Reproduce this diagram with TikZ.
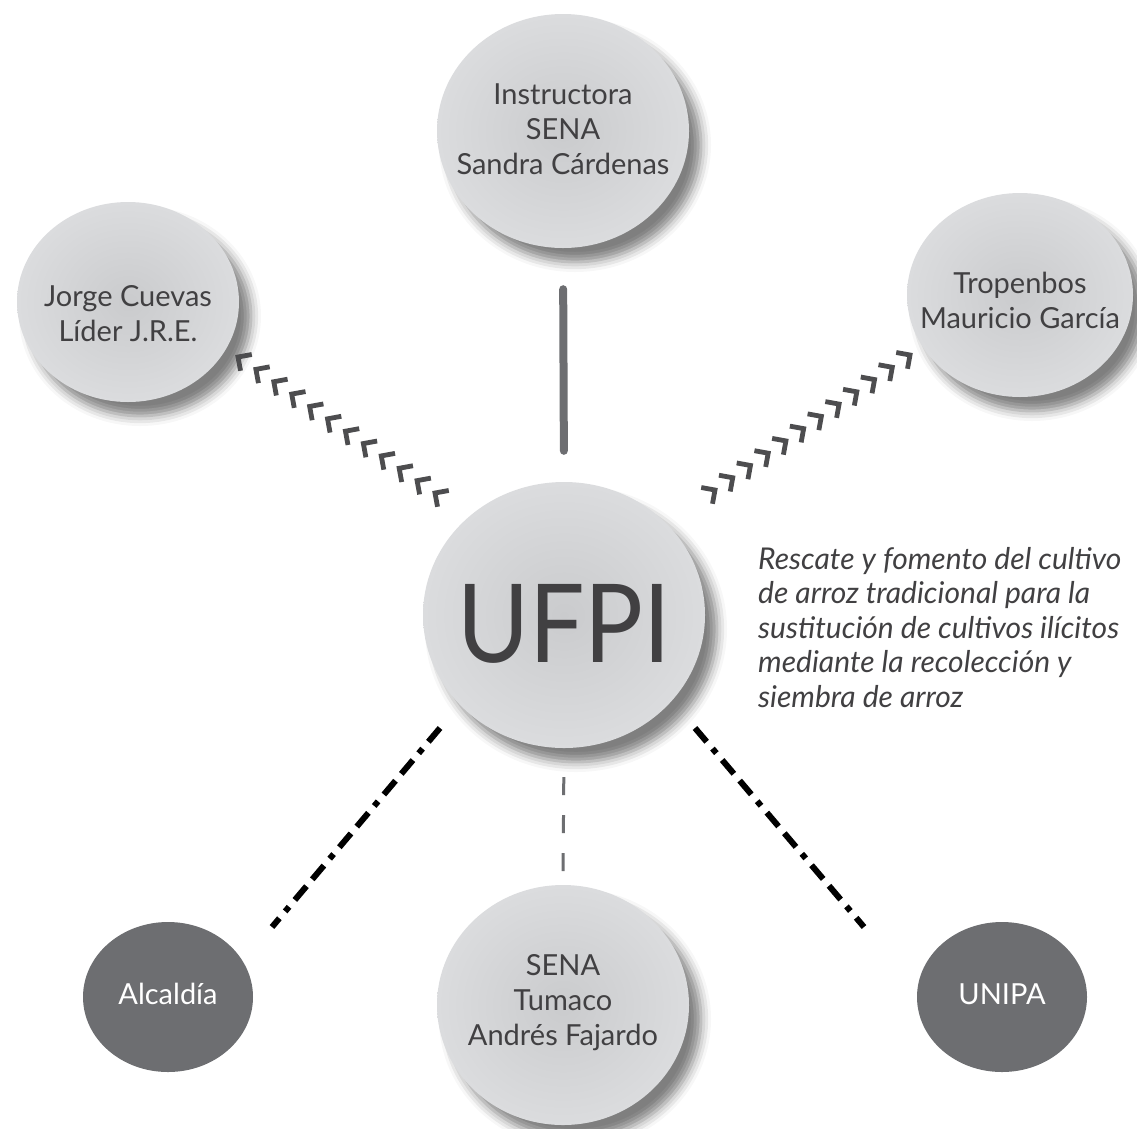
\documentclass[tikz,border=0pt]{standalone}
\usepackage{fontspec}
\setmainfont{Lato}
\newfontfamily\narrowlato[FakeStretch=0.9]{Lato}
\usetikzlibrary{shapes.geometric,calc,shadows.blur}
\definecolor{ufin}{HTML}{CACBCD}
\definecolor{ufout}{HTML}{DBDCDE}
\definecolor{darkc}{HTML}{6D6E71}
\definecolor{txtc}{HTML}{414042}
\definecolor{chevc}{HTML}{4D4D4F}
\definecolor{linkc}{HTML}{6D6E71}
\begin{document}
\begin{tikzpicture}[x=1pt,y=-1pt,
  lightnode/.style={ellipse, inner sep=0pt, shading=radial, inner color=ufin, outer color=ufout,
    blur shadow={shadow xshift=12pt, shadow yshift=-14pt, shadow blur radius=10pt, shadow opacity=50}},
  darknode/.style={ellipse, inner sep=0pt, fill=darkc},
  lbl/.style={align=center, text=txtc, font=\fontsize{29}{35}\selectfont, inner sep=0pt},
  wlbl/.style={lbl, text=white},
  chev/.style={draw=chevc, line width=4.8pt, miter limit=10},
  solidlink/.style={draw=linkc, line width=8pt, line cap=round},
  dashlink/.style={draw=linkc, line width=3pt, dash pattern=on 18pt off 20pt},
  ddlink/.style={draw=black, line width=6pt, dash pattern=on 18pt off 9pt on 6pt off 9pt on 18pt off 9pt}
]
\useasboundingbox (0,0) rectangle (1137,1128);

% nodes
\node[lightnode, minimum width=252pt, minimum height=234pt] (instr) at (563,131) {};
\node[lightnode, minimum width=222pt, minimum height=200pt] (jorge) at (128,302) {};
\node[lightnode, minimum width=226pt, minimum height=204pt] (tropen) at (1020,295) {};
\node[lightnode, minimum width=282pt, minimum height=266pt] (ufpi) at (564,615) {};
\node[lightnode, minimum width=252pt, minimum height=240pt] (sena) at (563,1005) {};
\node[darknode, minimum width=170pt, minimum height=150pt] (alc) at (168,997) {};
\node[darknode, minimum width=170pt, minimum height=150pt] (unipa) at (1002,997) {};

% labels (yshift is in canvas units: negative moves down)
\node[lbl] (instrt) at ([yshift=2pt]instr.center) {Instructora\\SENA\\Sandra Cárdenas};
\node[lbl] (jorget) at ([yshift=-12pt]jorge.center) {Jorge Cuevas\\Líder J.R.E.};
\node[lbl] (tropent) at ([yshift=-5pt]tropen.center) {Tropenbos\\Mauricio García};
\node[lbl, font=\narrowlato\fontsize{109}{120}\selectfont] (ufpit) at ([yshift=-9pt]ufpi.center) {UFPI};
\node[lbl] (senat) at ([yshift=2pt]sena.center) {SENA\\Tumaco\\Andrés Fajardo};
\node[wlbl] (alct) at ([yshift=3pt]alc.center) {Alcaldía};
\node[wlbl] (unipat) at ([yshift=3pt]unipa.center) {UNIPA};

\node[anchor=north west, align=left, inner sep=0pt, text=txtc,
  font=\itshape\fontsize{30}{34.5}\selectfont] (desc) at (758,547)
  {Rescate y fomento del cultivo\\de arroz tradicional para la\\sustitución de cultivos ilícitos\\mediante la recolección y\\siembra de arroz};

% solid and dashed vertical links
\draw[solidlink, shorten <=31pt, shorten >=41pt] (ufpi.north) -- (instr.south);
\draw[dashlink, shorten <=29pt, shorten >=13pt] (ufpi.south) -- (sena.north);

% dash-dot links
\coordinate (dl1) at (440,728);
\coordinate (dl2) at (272,927);
\coordinate (dr1) at (695,728);
\coordinate (dr2) at (864,927);
\draw[ddlink] (dl1) -- (dl2);
\draw[ddlink] (dr1) -- (dr2);

% chevron links
\coordinate (cl1) at (238,357);
\coordinate (cl2) at (435,493);
\coordinate (cl3) at ($(cl1)!1.5!(cl2)$);
\foreach \i in {0,...,11}{
  \path ($(cl1)!\i/11!(cl2)$) coordinate (p);
  \draw[chev] ($(p)!14pt!45:(cl3)$) -- (p) -- ($(p)!14pt!-45:(cl3)$);
}
\coordinate (cr1) at (910,355);
\coordinate (cr2) at (715,490);
\coordinate (cr3) at ($(cr1)!1.5!(cr2)$);
\foreach \i in {0,...,11}{
  \path ($(cr1)!\i/11!(cr2)$) coordinate (q);
  \draw[chev] ($(q)!14pt!45:(cr3)$) -- (q) -- ($(q)!14pt!-45:(cr3)$);
}
\end{tikzpicture}
\end{document}
